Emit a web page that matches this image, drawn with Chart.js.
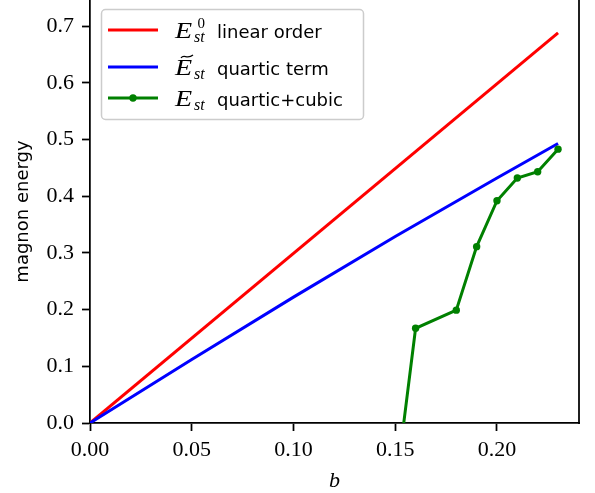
<!DOCTYPE html>
<html>
<head>
<meta charset="utf-8">
<script src="https://cdn.jsdelivr.net/npm/chart.js@4.4.1/dist/chart.umd.min.js"></script>
<style>
  html, body { margin: 0; padding: 0; background: #fff; }
  canvas { display: block; }
</style>
</head>
<body>
<canvas id="chart" width="595" height="493"></canvas>
<script>
// data
const linearB = [0, 0.23];
const linearE = [0, 0.688];
const quarticB = [0, 0.05, 0.10, 0.15, 0.20, 0.23];
const quarticE = [0, 0.112, 0.222, 0.329, 0.432, 0.493];
const cubicB = [0.15, 0.16, 0.18, 0.19, 0.20, 0.21, 0.22, 0.23];
const cubicE = [-0.12, 0.167, 0.199, 0.311, 0.392, 0.432, 0.443, 0.483];

const xTicks = [0, 0.05, 0.10, 0.15, 0.20];
const yTicks = [0, 0.1, 0.2, 0.3, 0.4, 0.5, 0.6, 0.7];
const seriesNames = ['linear order', 'quartic term', 'quartic+cubic'];
const seriesColors = ['#ff0000', '#0000ff', '#008000'];

const serif = '"Liberation Serif", "DejaVu Serif", serif';
const sans = '"DejaVu Sans", sans-serif';

function pairs(xs, ys) {
    return xs.map((x, i) => ({ x: x, y: ys[i] }));
}

// right spine, matplotlib style
const rightSpine = {
    id: 'rightSpine',
    afterDraw(chart) {
        const { ctx, chartArea } = chart;
        ctx.save();
        ctx.strokeStyle = '#000';
        ctx.lineWidth = 1.75;
        ctx.beginPath();
        ctx.moveTo(chartArea.right, 0);
        ctx.lineTo(chartArea.right, chartArea.bottom + 0.9);
        ctx.stroke();
        ctx.restore();
    }
};

// legend with the math symbols in serif italic
const mathLegend = {
    id: 'mathLegend',
    afterDraw(chart) {
        const ctx = chart.ctx;
        const rows = [30, 67, 98];
        ctx.save();
        ctx.beginPath();
        ctx.roundRect(101.5, 9.5, 262, 110, 4);
        ctx.fillStyle = 'rgba(255,255,255,0.8)';
        ctx.fill();
        ctx.strokeStyle = '#cccccc';
        ctx.lineWidth = 1.5;
        ctx.stroke();

        chart.data.datasets.forEach((ds, i) => {
            const y = rows[i];
            ctx.strokeStyle = ds.borderColor;
            ctx.lineWidth = 3;
            ctx.beginPath();
            ctx.moveTo(108, y);
            ctx.lineTo(158, y);
            ctx.stroke();
            if (ds.pointRadius > 0) {
                ctx.fillStyle = ds.borderColor;
                ctx.beginPath();
                ctx.arc(133, y, ds.pointRadius, 0, Math.PI * 2);
                ctx.fill();
            }

            const base = y + 8;
            ctx.fillStyle = '#000';
            ctx.textBaseline = 'alphabetic';
            ctx.textAlign = 'left';
            // wide italic E, like computer modern
            ctx.save();
            ctx.translate(175, base);
            ctx.scale(1.22, 1);
            ctx.font = 'italic 23px ' + serif;
            ctx.fillText('E', 0, 0);
            ctx.restore();
            if (i === 1) {
                ctx.strokeStyle = '#000';
                ctx.lineWidth = 1.3;
                const ty = base - 18.5;
                ctx.beginPath();
                ctx.moveTo(181, ty + 1.5);
                ctx.bezierCurveTo(184, ty - 3, 187, ty + 3.5, 193, ty - 1.5);
                ctx.stroke();
            }
            ctx.font = 'italic 16px ' + serif;
            ctx.fillText('st', 194, base + 3.5);
            if (i === 0) {
                ctx.font = '15px ' + serif;
                ctx.fillText('0', 197.5, base - 10);
            }
            ctx.font = '18px ' + sans;
            ctx.fillText(seriesNames[i], 217, base);
        });
        ctx.restore();
    }
};

const tickGrid = {
    drawOnChartArea: false,
    drawTicks: true,
    tickLength: 8,
    tickWidth: 1.75,
    color: '#000'
};

new Chart(document.getElementById('chart'), {
    type: 'scatter',
    data: {
        datasets: [
            {
                label: seriesNames[0],
                data: pairs(linearB, linearE),
                borderColor: seriesColors[0],
                backgroundColor: seriesColors[0],
                showLine: true,
                borderWidth: 3,
                pointRadius: 0,
                clip: 0,
                order: 3
            },
            {
                label: seriesNames[1],
                data: pairs(quarticB, quarticE),
                borderColor: seriesColors[1],
                backgroundColor: seriesColors[1],
                showLine: true,
                borderWidth: 3,
                pointRadius: 0,
                clip: 0,
                order: 2
            },
            {
                label: seriesNames[2],
                data: pairs(cubicB, cubicE),
                borderColor: seriesColors[2],
                backgroundColor: seriesColors[2],
                showLine: true,
                borderWidth: 3,
                pointRadius: 3.7,
                pointBorderWidth: 0,
                clip: 0,
                order: 1
            }
        ]
    },
    options: {
        responsive: false,
        animation: false,
        devicePixelRatio: 1,
        layout: { autoPadding: false, padding: { top: 0, right: 16, bottom: 0, left: 0 } },
        plugins: {
            legend: { display: false },
            tooltip: { enabled: false }
        },
        scales: {
            x: {
                type: 'linear',
                min: 0,
                max: 0.2403,
                grid: tickGrid,
                border: { display: true, color: '#000', width: 1.75 },
                afterBuildTicks: s => { s.ticks = xTicks.map(v => ({ value: v })); },
                afterFit: s => { s.height = 70; s.paddingLeft = 0; s.paddingRight = 0; },
                ticks: {
                    color: '#000',
                    padding: 6,
                    maxRotation: 0,
                    font: { family: serif, size: 22 },
                    callback: v => v.toFixed(2)
                },
                title: {
                    display: true,
                    text: 'b',
                    color: '#000',
                    font: { family: serif, size: 22, style: 'italic', lineHeight: 1 },
                    padding: { top: 0, bottom: 1 }
                }
            },
            y: {
                type: 'linear',
                min: 0,
                max: 0.746,
                grid: tickGrid,
                border: { display: true, color: '#000', width: 1.75 },
                afterBuildTicks: s => { s.ticks = yTicks.map(v => ({ value: v })); },
                afterFit: s => { s.width = 90; s.paddingTop = 0; s.paddingBottom = 0; },
                ticks: {
                    color: '#000',
                    padding: 8,
                    font: { family: serif, size: 22 },
                    callback: v => v.toFixed(1)
                },
                title: {
                    display: true,
                    text: 'magnon energy',
                    color: '#000',
                    font: { family: sans, size: 18 },
                    padding: { top: 13, bottom: 0 }
                }
            }
        }
    },
    plugins: [rightSpine, mathLegend]
});
</script>
</body>
</html>
